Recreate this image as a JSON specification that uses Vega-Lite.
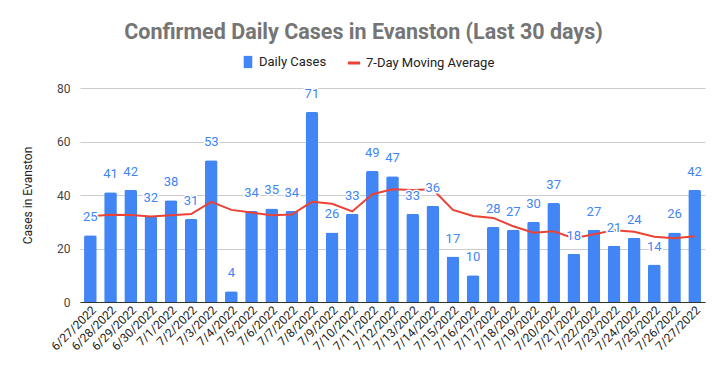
{
  "$schema": "https://vega.github.io/schema/vega-lite/v6.json",
  "width": 625,
  "height": 214,
  "autosize": {"type": "none"},
  "padding": {"left": 80, "top": 88, "right": 20, "bottom": 69},
  "background": "white",
  "title": {
    "text": "Confirmed Daily Cases in Evanston (Last 30 days)",
    "font": "Roboto",
    "fontSize": 21.5,
    "fontWeight": "bold",
    "color": "#757575",
    "anchor": "middle",
    "dx": -29,
    "offset": 12
  },
  "data": {
    "values": [
      {"date": "6/27/2022", "cases": 25, "avg": 32.1},
      {"date": "6/28/2022", "cases": 41, "avg": 32.6},
      {"date": "6/29/2022", "cases": 42, "avg": 32.5},
      {"date": "6/30/2022", "cases": 32, "avg": 32.0},
      {"date": "7/1/2022", "cases": 38, "avg": 32.4},
      {"date": "7/2/2022", "cases": 31, "avg": 32.9},
      {"date": "7/3/2022", "cases": 53, "avg": 37.43},
      {"date": "7/4/2022", "cases": 4, "avg": 34.43},
      {"date": "7/5/2022", "cases": 34, "avg": 33.43},
      {"date": "7/6/2022", "cases": 35, "avg": 32.43},
      {"date": "7/7/2022", "cases": 34, "avg": 32.71},
      {"date": "7/8/2022", "cases": 71, "avg": 37.43},
      {"date": "7/9/2022", "cases": 26, "avg": 36.71},
      {"date": "7/10/2022", "cases": 33, "avg": 33.86},
      {"date": "7/11/2022", "cases": 49, "avg": 40.29},
      {"date": "7/12/2022", "cases": 47, "avg": 42.14},
      {"date": "7/13/2022", "cases": 33, "avg": 41.86},
      {"date": "7/14/2022", "cases": 36, "avg": 42.14},
      {"date": "7/15/2022", "cases": 17, "avg": 34.43},
      {"date": "7/16/2022", "cases": 10, "avg": 32.14},
      {"date": "7/17/2022", "cases": 28, "avg": 31.43},
      {"date": "7/18/2022", "cases": 27, "avg": 28.29},
      {"date": "7/19/2022", "cases": 30, "avg": 25.86},
      {"date": "7/20/2022", "cases": 37, "avg": 26.43},
      {"date": "7/21/2022", "cases": 18, "avg": 23.86},
      {"date": "7/22/2022", "cases": 27, "avg": 25.29},
      {"date": "7/23/2022", "cases": 21, "avg": 26.86},
      {"date": "7/24/2022", "cases": 24, "avg": 26.29},
      {"date": "7/25/2022", "cases": 14, "avg": 24.43},
      {"date": "7/26/2022", "cases": 26, "avg": 23.86},
      {"date": "7/27/2022", "cases": 42, "avg": 24.57}
    ]
  },
  "encoding": {
    "x": {
      "field": "date",
      "type": "ordinal",
      "sort": null,
      "scale": {"paddingInner": 0.37, "paddingOuter": 0.2},
      "axis": {
        "title": null,
        "labelAngle": -45,
        "labelFont": "Roboto",
        "labelFontSize": 12,
        "labelColor": "#222222",
        "ticks": false,
        "domainColor": "#333333",
        "labelPadding": 2
      }
    }
  },
  "layer": [
    {
      "mark": {"type": "bar", "cornerRadiusTopLeft": 2, "cornerRadiusTopRight": 2},
      "encoding": {
        "y": {
          "field": "cases",
          "type": "quantitative",
          "scale": {"domain": [0, 80]},
          "axis": {
            "title": "Cases in Evanston",
            "titleFont": "Roboto",
            "titleFontSize": 12,
            "titleFontWeight": "normal",
            "titleColor": "#222222",
            "titlePadding": 22,
            "values": [0, 20, 40, 60, 80],
            "labelFont": "Roboto",
            "labelFontSize": 12,
            "labelColor": "#444444",
            "ticks": false,
            "domain": false,
            "gridColor": "#cccccc",
            "labelPadding": 10
          }
        },
        "fill": {
          "datum": "Daily Cases",
          "type": "nominal",
          "scale": {"range": ["#4285F4"]},
          "legend": {
            "title": null,
            "orient": "none",
            "legendX": 161,
            "legendY": -33,
            "symbolType": "M-0.7,-1L0.7,-1L0.7,1L-0.7,1Z",
            "symbolSize": 150,
            "labelFont": "Roboto",
            "labelFontSize": 13,
            "labelColor": "#222222"
          }
        }
      }
    },
    {
      "mark": {"type": "line", "strokeWidth": 2},
      "encoding": {
        "y": {"field": "avg", "type": "quantitative"},
        "stroke": {
          "datum": "7-Day Moving Average",
          "type": "nominal",
          "scale": {"range": ["#EA4335"]},
          "legend": {
            "title": null,
            "orient": "none",
            "legendX": 266,
            "legendY": -33,
            "symbolType": "stroke",
            "symbolStrokeWidth": 3,
            "symbolSize": 150,
            "labelFont": "Roboto",
            "labelFontSize": 13,
            "labelColor": "#222222"
          }
        }
      }
    },
    {
      "mark": {"type": "text", "font": "Roboto", "fontSize": 13, "color": "white", "stroke": "white", "strokeWidth": 3, "strokeJoin": "round", "baseline": "alphabetic", "dy": -14},
      "encoding": {
        "y": {"field": "cases", "type": "quantitative"},
        "text": {"field": "cases", "type": "quantitative"}
      }
    },
    {
      "mark": {"type": "text", "font": "Roboto", "fontSize": 13, "color": "#4285F4", "baseline": "alphabetic", "dy": -14},
      "encoding": {
        "y": {"field": "cases", "type": "quantitative"},
        "text": {"field": "cases", "type": "quantitative"}
      }
    }
  ],
  "config": {
    "view": {"stroke": null}
  }
}
